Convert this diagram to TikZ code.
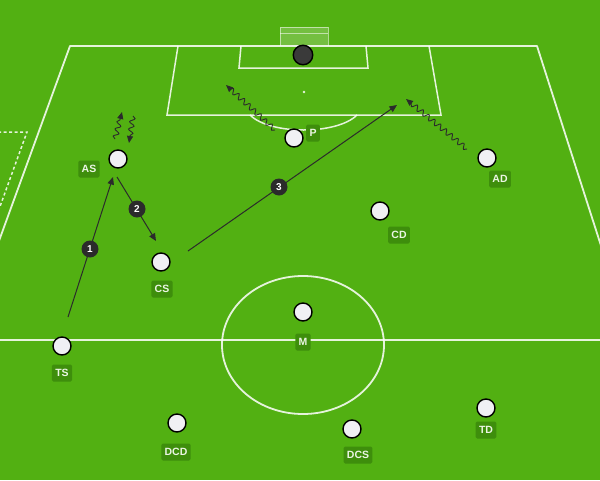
\documentclass[tikz,border=0pt]{standalone}
\usepackage{fontspec}
\setsansfont{Liberation Sans}
\usetikzlibrary{arrows.meta,decorations.pathmorphing}
\definecolor{grass}{HTML}{52B012}
\definecolor{tagfill}{HTML}{3E8E0C}
\definecolor{ink}{HTML}{2B2B2B}
\definecolor{ball}{HTML}{F0F0F4}
\definecolor{keepc}{HTML}{3A3A3A}
\definecolor{tagtext}{HTML}{EBF5E4}
\begin{document}
\begin{tikzpicture}[x=1pt,y=-1pt,
  fieldline/.style={draw=white,draw opacity=0.85,line width=1.8pt},
  player/.style={circle,draw=black,line width=1.4pt,fill=ball,minimum size=18pt,inner sep=0pt},
  keeper/.style={player,fill=keepc,minimum size=19.5pt},
  tag/.style={fill=tagfill,rounded corners=1.5pt,text=tagtext,font=\sffamily\bfseries\fontsize{10.5}{10.5}\selectfont,inner sep=3.3pt,minimum height=17pt},
  badge/.style={circle,fill=ink,text=white,font=\sffamily\bfseries\fontsize{10}{10}\selectfont,minimum size=17pt,inner sep=0pt},
  pass/.style={draw=ink,line width=1pt,-{Triangle[length=7.5pt,width=6.5pt]}},
  run/.style={draw=ink,line width=0.9pt,-{Triangle[length=7pt,width=6pt]},decorate,decoration={snake,amplitude=2.5pt,segment length=7.5pt,post length=5pt}}
]
\useasboundingbox (0,0) rectangle (600,480);
\fill[grass] (0,0) rectangle (600,480);
\begin{scope}
\clip (0,0) rectangle (600,480);
% pitch outline
\draw[fieldline,line join=round] (-20,293) -- (70,46) -- (537,46) -- (620,305);
% halfway line
\draw[fieldline] (-10,340) -- (610,340);
% centre circle
\draw[fieldline] (303,345) ellipse [x radius=81, y radius=69];
% penalty box
\draw[fieldline,line width=1.5pt] (178,46) -- (167,115) -- (441,115) -- (429,46);
% goal area
\draw[fieldline,line width=1.5pt] (241,46) -- (239,68) -- (368,68) -- (366,46);
% penalty spot
\fill[white,opacity=0.85] (304,92) circle (1.3);
% penalty arc
\draw[fieldline,line width=1.5pt] (250,115) .. controls (270,135) and (337,135) .. (357,115);
% goal
\fill[white,opacity=0.2] (280,27) rectangle (328,46);
\draw[white,draw opacity=0.55,line width=1pt] (280,46) -- (280,27) -- (328,27) -- (328,46);
\draw[white,draw opacity=0.55,line width=1pt] (280,33) -- (328,33);
% left dashed area
\draw[white,draw opacity=0.85,line width=1.5pt,dash pattern=on 3pt off 2.5pt] (-2,132) -- (27,132) -- (-2,212);
\end{scope}

% players
\node[keeper] (GK) at (303,55) {};
\node[player] (AS) at (118,159) {};
\node[player] (P) at (294,138) {};
\node[player] (AD) at (487,158) {};
\node[player] (CD) at (380,211) {};
\node[player] (CS) at (161,262) {};
\node[player] (M) at (303,312) {};
\node[player] (TS) at (62,346) {};
\node[player] (DCD) at (177,423) {};
\node[player] (DCS) at (352,429) {};
\node[player] (TD) at (486,408) {};

% labels
\node[tag] (lAS) at (89,169) {AS};
\node[tag] (lP) at (313,133) {P};
\node[tag] (lAD) at (500,179) {AD};
\node[tag] (lCD) at (399,235) {CD};
\node[tag] (lCS) at (162,289) {CS};
\node[tag] (lM) at (303,342) {M};
\node[tag] (lTS) at (62,373) {TS};
\node[tag] (lDCD) at (176,452) {DCD};
\node[tag] (lDCS) at (358,455) {DCS};
\node[tag] (lTD) at (486,430) {TD};

% pass coordinates
\coordinate (p1s) at (68,317);
\coordinate (p1e) at (113,177);
\coordinate (p2s) at (117,177);
\coordinate (p2e) at (156,241);
\coordinate (p3s) at (188,251);
\coordinate (p3e) at (397,105);
% runs
\coordinate (r1s) at (115,139);
\coordinate (r1e) at (122,112);
\coordinate (r2s) at (133,116);
\coordinate (r2e) at (129,143);
\coordinate (r3s) at (275,130);
\coordinate (r3e) at (226,85);
\coordinate (r4s) at (467,149);
\coordinate (r4e) at (406,99);

\draw[pass] (p1s) -- (p1e);
\draw[pass] (p2s) -- (p2e);
\draw[pass] (p3s) -- (p3e);
\draw[run] (r1s) -- (r1e);
\draw[run] (r2s) -- (r2e);
\draw[run] (r3s) -- (r3e);
\draw[run] (r4s) -- (r4e);

% badges
\node[badge] (b1) at (90,249) {1};
\node[badge] (b2) at (137,209) {2};
\node[badge] (b3) at (279,187) {3};
\end{tikzpicture}
\end{document}
